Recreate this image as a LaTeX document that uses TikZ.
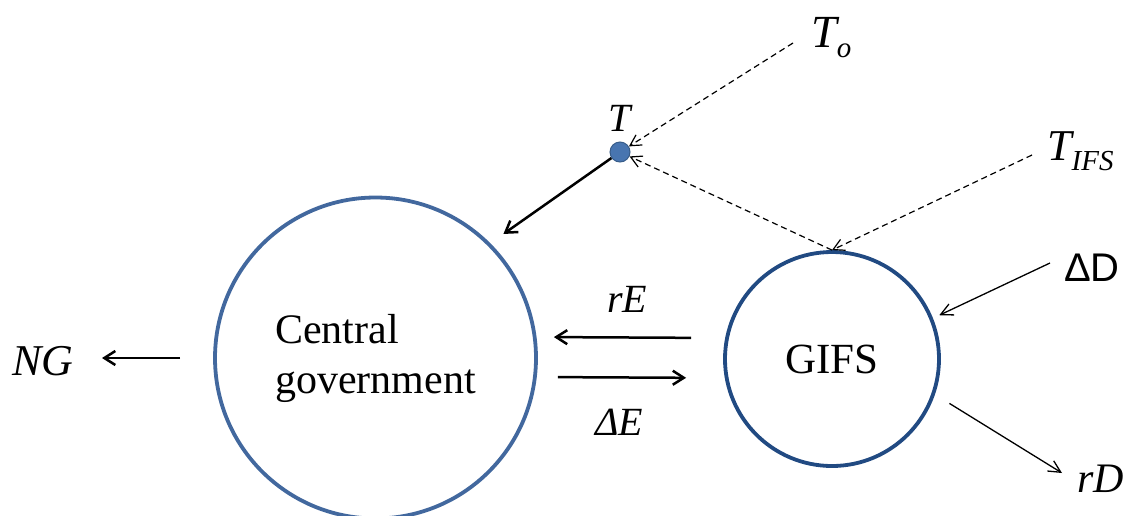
\documentclass[tikz,border=0pt]{standalone}
\usepackage{fontspec}
\setmainfont{Liberation Serif}
\newfontfamily\arialfont{Liberation Sans}
\usetikzlibrary{arrows.meta, positioning}
\definecolor{cgblue}{RGB}{66,104,158}
\definecolor{ifsblue}{RGB}{33,74,130}
\definecolor{dotblue}{RGB}{72,117,176}
\definecolor{dotedge}{RGB}{56,93,138}
\newcommand{\lowsub}[1]{\raisebox{-10pt}{\fontsize{29}{30}\selectfont #1}}

\begin{document}
\begin{tikzpicture}[x=1pt, y=-1pt, font=\fontsize{42}{50}\selectfont,
		sector/.style={circle, draw=cgblue, line width=3.8pt, inner sep=0pt},
		lbl/.style={font=\fontsize{42}{50}\selectfont\itshape, inner sep=0pt, anchor=base west},
		arr/.style={-{Straight Barb[length=11pt, width=14pt]}, line width=2.5pt},
		thinarr/.style={-{Straight Barb[length=12pt, width=12pt]}, line width=1.3pt},
		dasharr/.style={-{Straight Barb[length=11pt, width=12pt]}, line width=1.2pt,
		                dash pattern=on 6pt off 4pt}]
		\useasboundingbox (0,0) rectangle (1132,515);
		\node[sector, minimum size=321pt, align=left] (cg) at (375.5,358) {Central\\government};
		\node[sector, draw=ifsblue, minimum size=214pt, font=\fontsize{43}{50}\selectfont] (gifs) at (832,359) {GIFS};
		\node[circle, fill=dotblue, draw=dotedge, line width=1pt, minimum size=20pt, inner sep=0pt] (tdot) at (620,152) {};
		\node[lbl, font=\fontsize{40}{50}\selectfont\itshape, above=10pt of tdot] (tlab) {T};
		% free ends
		\coordinate (o) at (793,43);
		\coordinate (ifs) at (1032,155);
		\coordinate (dd) at (1050,263);
		\coordinate (rd) at (1062,473);
		\coordinate (ng) at (102,358);
		% labels
		\node[lbl, font=\fontsize{46}{50}\selectfont\itshape] (tolab) at (811,47) {T\lowsub{o}};
		\node[lbl, font=\fontsize{44}{50}\selectfont\itshape] (tifslab) at (1047,160) {T\lowsub{IFS}};
		\node[lbl, font=\arialfont\fontsize{40}{44}\selectfont] (ddlab) at (1064,281) {ΔD};
		\node[lbl] (rdlab) at (1077,492) {rD};
		\node[lbl, font=\fontsize{44}{50}\selectfont\itshape] (nglab) at (12,375) {NG};
		\node[lbl, font=\fontsize{40}{50}\selectfont\itshape] (relab) at (607,312) {rE};
		\node[lbl, font=\fontsize{40}{50}\selectfont\itshape] (delab) at (595,435) {ΔE};
		% flows
		\draw[arr, shorten >=16pt] (tdot) -- (cg.45);
		\draw[dasharr] (o) -- (tdot);
		\draw[dasharr] (gifs.north) -- (tdot);
		\draw[dasharr] (ifs) -- (gifs.north);
		\draw[thinarr, shorten >=7pt] (dd) -- (gifs.22);
		\draw[thinarr, shorten <=17pt] (gifs.-19) -- (rd);
		\draw[arr, shorten <=33pt] (cg.west) -- (ng);
		\draw[arr, shorten <=32pt, shorten >=16pt] ([yshift=21pt]gifs.west) -- ([yshift=21pt]cg.east);
		\draw[arr, shorten <=20pt, shorten >=37pt] ([yshift=-19pt]cg.east) -- ([yshift=-19pt]gifs.west);
	\end{tikzpicture}
\end{document}
